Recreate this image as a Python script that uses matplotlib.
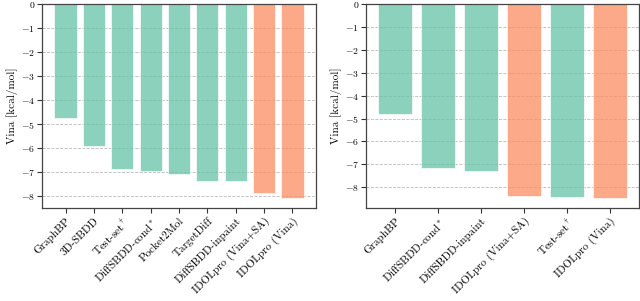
import matplotlib
matplotlib.use('Agg')
from matplotlib import pyplot as plt

plt.rcParams['font.family'] = 'serif'
plt.rcParams['font.serif'] = ['cmr10']
plt.rcParams['mathtext.fontset'] = 'cm'
plt.rcParams['axes.formatter.use_mathtext'] = True
plt.rcParams['axes.unicode_minus'] = True

# left panel
methods_a = ['GraphBP', '3D-SBDD', r'Test-set$^\dagger$', r'DiffSBDD-cond$^*$', 'Pocket2Mol',
             'TargetDiff', 'DiffSBDD-inpaint', 'IDOLpro (Vina+SA)', 'IDOLpro (Vina)']
vina_a = [-4.73, -5.89, -6.88, -6.96, -7.08, -7.35, -7.36, -7.88, -8.08]
ours_a = [False, False, False, False, False, False, False, True, True]

# right panel
methods_b = ['GraphBP', r'DiffSBDD-cond$^*$', 'DiffSBDD-inpaint', 'IDOLpro (Vina+SA)',
             r'Test-set$^\dagger$', 'IDOLpro (Vina)']
vina_b = [-4.82, -7.16, -7.31, -8.40, -8.41, -8.48]
ours_b = [False, False, False, True, False, True]

green = '#66c2a5'
orange = '#fc8d62'

W, H = 640, 301
fig = plt.figure(figsize=(W / 100, H / 100), dpi=100)
fs = 8


def panel(rect, names, vals, ours):
    ax = fig.add_axes(rect)
    cols = [orange if o else green for o in ours]
    ax.bar(range(len(vals)), vals, width=0.78, color=cols, alpha=0.75,
           edgecolor='white', linewidth=0.6, zorder=2)
    ax.set_ylim(min(vals) * 1.05, 0)
    ax.set_xticks(range(len(vals)))
    ax.set_xticklabels(names, rotation=45, ha='right', rotation_mode='anchor', fontsize=fs)
    ax.tick_params(axis='y', labelsize=7, length=3.5, width=0.8, color='#333333', pad=1.5)
    ax.tick_params(axis='x', length=3.5, width=0.8, color='#333333', pad=2)
    ax.yaxis.grid(True, linestyle='--', color='#bbbbbb', linewidth=0.6, zorder=0)
    ax.set_axisbelow(True)
    for s in ax.spines.values():
        s.set_color('#444444')
        s.set_linewidth(0.9)
    ax.set_ylabel('Vina [kcal/mol]', fontsize=fs, labelpad=2)
    return ax


top = 4
bottom = 208
panel([42 / W, (H - bottom) / H, (316 - 42) / W, (bottom - top) / H], methods_a, vina_a, ours_a)
panel([366 / W, (H - bottom) / H, (639 - 366) / W, (bottom - top) / H], methods_b, vina_b, ours_b)

fig.savefig('out.png', dpi=100)
